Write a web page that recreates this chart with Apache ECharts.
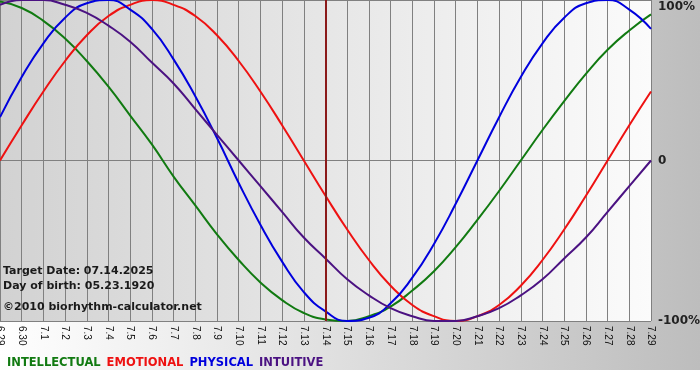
<!DOCTYPE html>
<html>
<head>
<meta charset="utf-8">
<script src="https://cdn.jsdelivr.net/npm/echarts@6/dist/echarts.min.js"></script>
<style>
html,body{margin:0;padding:0;}
#chart{width:700px;height:380px;background:linear-gradient(to right,#ffffff,#bdbdbd) 0 0/700px 370px no-repeat,#ffffff;}
</style>
</head>
<body>
<div id="chart"></div>
<script>
const categories = ['6.29','6.30','7.1','7.2','7.3','7.4','7.5','7.6','7.7','7.8','7.9','7.10','7.11','7.12','7.13','7.14','7.15','7.16','7.17','7.18','7.19','7.20','7.21','7.22','7.23','7.24','7.25','7.26','7.27','7.28','7.29'];
const intellectual = [99,95,87,76,62,46,28,10,-10,-28,-46,-62,-76,-87,-95,-99,-100,-97,-91,-81,-69,-54,-37,-19,0,19,37,54,69,81,91];
const emotional = [0,22,43,62,78,90,97,100,97,90,78,62,43,22,0,-22,-43,-62,-78,-90,-97,-100,-97,-90,-78,-62,-43,-22,0,22,43];
const physical = [27,52,73,89,98,100,94,82,63,40,14,-14,-40,-63,-82,-94,-100,-98,-89,-73,-52,-27,0,27,52,73,89,98,100,94,82];
const intuitive = [97,100,100,97,92,84,74,61,48,32,16,0,-16,-32,-48,-61,-74,-84,-92,-97,-100,-100,-97,-92,-84,-74,-61,-48,-32,-16,0];
const seriesNames = ['INTELLECTUAL','EMOTIONAL','PHYSICAL','INTUITIVE'];
const seriesColors = ['#117a11','#ee1111','#0000dd','#4b1282'];
const targetDay = '7.14';
const infoLines = ['Target Date: 07.14.2025','Day of birth: 05.23.1920','\u00a92010 biorhythm-calculator.net'];

const chart = echarts.init(document.getElementById('chart'), null, {renderer:'canvas'});
const allData = [intellectual, emotional, physical, intuitive];

const series = allData.map((d, i) => ({
  name: seriesNames[i],
  type: 'line',
  data: d,
  smooth: 0.5,
  symbol: 'none',
  lineStyle: {color: seriesColors[i], width: 2},
  itemStyle: {color: seriesColors[i]},
  z: 3 + i
}));
series[0].markLine = {
  silent: true,
  symbol: 'none',
  label: {show: false},
  lineStyle: {color: '#8b1a1a', width: 2, type: 'solid'},
  data: [{xAxis: targetDay}],
  z: 10
};

chart.setOption({
  animation: false,
  grid: {
    left: 0, right: 49, top: 0, bottom: 59,
    outerBoundsMode: 'none',
    containLabel: false,
    show: true,
    borderWidth: 0,
    backgroundColor: new echarts.graphic.LinearGradient(0, 0, 1, 0, [
      {offset: 0, color: '#d2d2d2'},
      {offset: 1, color: '#fbfbfb'}
    ])
  },
  legend: {
    left: -3,
    top: 352,
    icon: 'none',
    itemWidth: 0,
    itemHeight: 0,
    itemGap: 1,
    selectedMode: false,
    data: seriesNames.map((n, i) => ({name: n, textStyle: {color: seriesColors[i]}})),
    textStyle: {fontFamily: 'DejaVu Sans', fontWeight: 'bold', fontSize: 11.5, padding: 0}
  },
  xAxis: {
    type: 'category',
    data: categories,
    boundaryGap: false,
    axisLine: {show: true, lineStyle: {color: '#808080', width: 1}},
    axisTick: {show: true, length: 4, lineStyle: {color: '#808080'}},
    splitLine: {show: true, lineStyle: {color: '#808080', width: 1}},
    axisLabel: {
      rotate: -90,
      interval: 0,
      margin: 5,
      color: '#111',
      fontFamily: 'Liberation Sans',
      fontSize: 10,
      hideOverlap: false
    }
  },
  yAxis: {
    type: 'value',
    position: 'right',
    min: -100,
    max: 100,
    interval: 100,
    axisLine: {show: false},
    axisTick: {show: false},
    splitLine: {show: true, lineStyle: {color: '#808080', width: 1}},
    axisLabel: {
      margin: 7,
      color: '#222',
      fontFamily: 'DejaVu Sans',
      fontWeight: 'bold',
      fontSize: 12,
      formatter: v => v === 100 ? '{top|100%}' : (v === 0 ? '0' : v + '%'),
      rich: {
        top: {
          padding: [14, 0, 0, 0],
          color: '#222',
          fontFamily: 'DejaVu Sans',
          fontWeight: 'bold',
          fontSize: 12
        }
      }
    }
  },
  graphic: infoLines.map((t, i) => ({
    type: 'text',
    left: 3,
    top: [266, 281, 302][i],
    z: 100,
    style: {text: t, fill: '#1a1a1a', font: 'bold 11px "DejaVu Sans"'}
  })),
  series: series
});
</script>
</body>
</html>
